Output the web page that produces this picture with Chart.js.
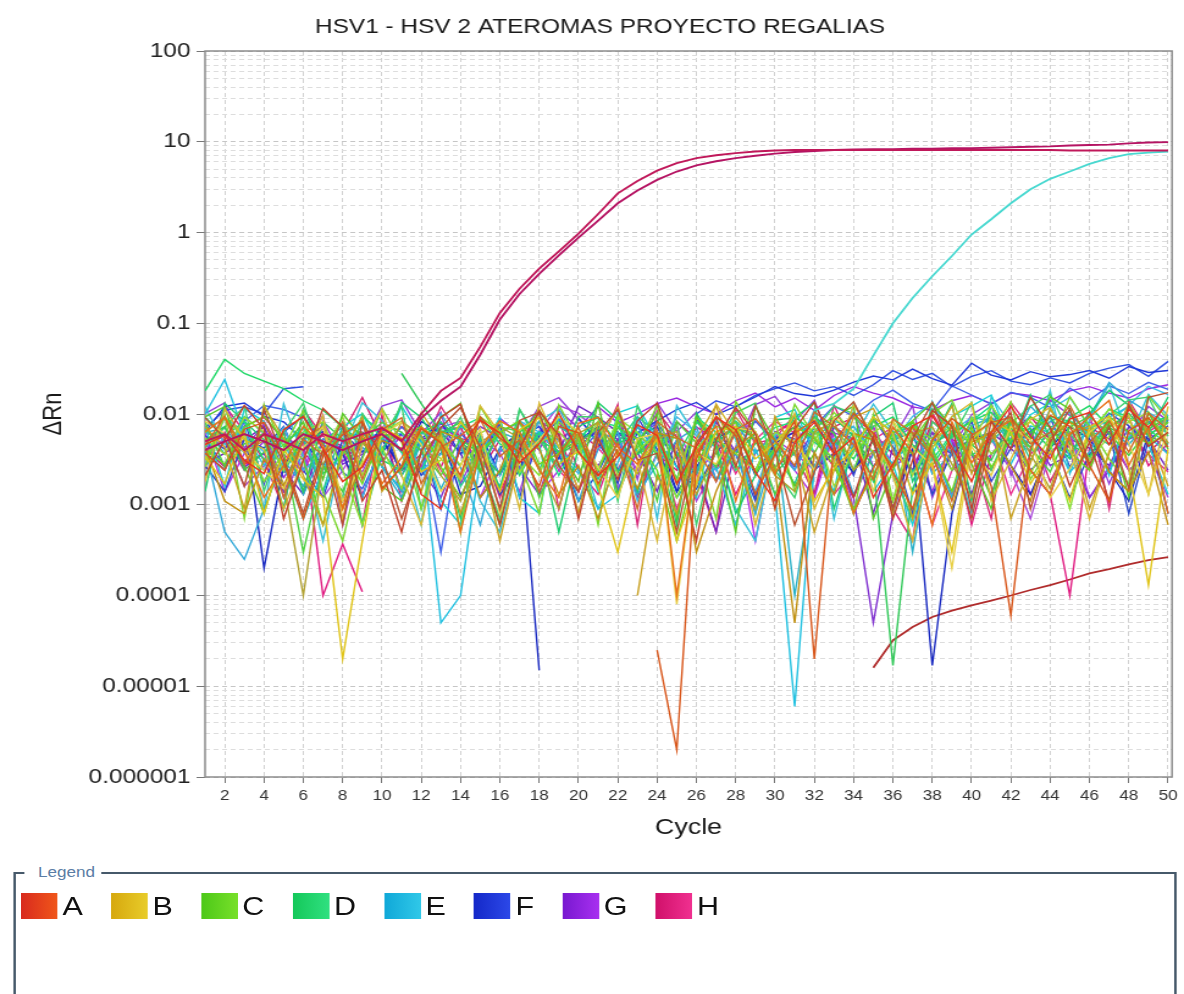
<!DOCTYPE html>
<html><head><meta charset="utf-8">
<script src="https://cdn.jsdelivr.net/npm/chart.js@4.4.1/dist/chart.umd.min.js"></script>
<style>
html,body{margin:0;padding:0;background:#fff;overflow:hidden;width:1184px;height:994px}
#wrap{position:absolute;left:0;top:0;width:970px;height:994px;transform:scaleX(1.2206);transform-origin:0 0}
#cbox{position:absolute;left:0;top:0;width:970px;height:860px}
#legbox{position:absolute;left:10.7px;top:872px;width:953px;height:200px;border:2px solid #46596a;box-sizing:border-box}
#legtitle{position:absolute;left:7.8px;top:-10px;background:#fff;padding:0 5px 0 10.6px;font:14px 'Liberation Sans',Arial,sans-serif;color:#5a7da5;line-height:16px}
#items{position:absolute;left:4.5px;top:19px;display:flex;align-items:center}
.it{display:flex;align-items:center;margin-right:23px}
.sw{width:30px;height:26px;margin-right:4px}
.lb{font:25px 'Liberation Sans',Arial,sans-serif;color:#111;line-height:26px}
</style></head>
<body>
<div id="wrap">
  <div id="cbox"><canvas id="c"></canvas></div>
  <div id="legbox"><span id="legtitle">Legend</span><div id="items"></div></div>
</div>
<script>
// ---------- DATA ----------
const titleText = 'HSV1 - HSV 2 ATEROMAS PROYECTO REGALIAS';
const cycles = [1,2,3,4,5,6,7,8,9,10,11,12,13,14,15,16,17,18,19,20,21,22,23,24,25,26,27,28,29,30,31,32,33,34,35,36,37,38,39,40,41,42,43,44,45,46,47,48,49,50];
const xTickValues = [2,4,6,8,10,12,14,16,18,20,22,24,26,28,30,32,34,36,38,40,42,44,46,48,50];
const xTickLabels = ['2','4','6','8','10','12','14','16','18','20','22','24','26','28','30','32','34','36','38','40','42','44','46','48','50'];
const yDecades = [0.000001,0.00001,0.0001,0.001,0.01,0.1,1,10,100];
const yTickLabels = ['0.000001','0.00001','0.0001','0.001','0.01','0.1','1','10','100'];
const groupNames = ['A','B','C','D','E','F','G','H'];

const A1 = [
0.0046,0.0058,0.0031,0.0022,0.0067,0.0094,0.0041,0.0018,0.0026,0.0071,
0.0052,0.0013,0.0009,0.0043,0.0085,0.0062,0.0029,0.0047,0.0103,0.0038,
0.0021,0.0034,0.0076,0.0058,0.0017,0.0044,0.0092,0.0067,0.0023,0.0011,
0.0049,0.0081,0.0036,0.0055,0.0012,0.0028,0.0074,0.0096,0.0043,0.0018,
0.0063,0.0121,0.0057,0.0032,0.0088,0.0104,0.0046,0.0113,0.0071,0.0134];
const A2 = [
0.0037,0.0024,0.0068,0.0081,0.0029,0.0007,0.0034,0.0059,0.0083,0.0015,
0.0026,0.0069,0.0048,0.0021,0.0093,0.0054,0.0038,0.0016,0.0073,0.0062,
0.0017,0.0041,null,0.000025,0.000002,0.0032,0.0095,0.0058,0.0013,0.0036,
0.0084,0.00002,0.0047,0.0102,0.0061,0.0023,0.0009,0.0052,0.0089,0.0061,
0.0016,0.00006,0.0042,0.0097,0.0073,0.0027,0.0011,0.0065,0.0091,0.0043];
const A3 = [
0.0021,0.0052,0.0124,0.0068,0.0007,0.0031,0.0115,0.0072,0.0011,0.0024,
0.0005,0.0039,0.0092,0.0128,0.0031,0.0006,0.0042,0.0108,0.0058,0.0007,
0.0054,0.0019,0.0084,0.0132,0.0033,0.0004,0.0052,0.0118,0.0061,0.0009,
0.0068,0.0135,0.0044,0.0012,0.0056,0.0007,0.0031,0.0109,0.0074,0.0009,
0.0083,0.0041,0.0152,0.0071,0.0016,0.0049,0.0011,0.0126,0.0044,0.0063];
const A4 = [
0.0064,0.0091,0.0039,0.0012,0.0027,0.0073,0.0046,0.0009,0.0061,0.0017,
0.0033,0.0072,0.0048,0.0005,0.0041,0.0084,0.0063,0.0024,0.0012,0.0079,
0.0092,0.0043,0.0028,0.0065,0.0001,0.0038,0.0074,0.0011,0.0053,0.0022,
0.0061,0.0086,0.0045,0.0008,0.0025,0.0071,0.0037,0.0006,0.0082,0.0029,
0.0063,0.0085,0.0024,0.0013,0.0059,0.0093,0.0141,0.0027,0.0072,0.0008];
const A5 = [
0.0091,0.0054,0.0016,0.0112,0.0032,0.0008,0.0041,0.0006,0.0082,0.0034,
0.0007,0.0029,0.0071,0.0118,0.0043,0.0009,0.0085,0.0104,0.0027,0.0014,
0.0063,0.0112,0.0031,0.0037,0.0005,0.0048,0.0091,0.0026,0.0124,0.0039,
0.0006,0.0023,0.0084,0.0136,0.0051,0.0009,0.0053,0.0134,0.0038,0.0007,
0.0057,0.0103,0.0009,0.0049,0.0114,0.0028,0.0072,0.0015,0.0153,0.0172];
const A6 = [
0.0045,0.0094,0.0028,0.0061,0.0012,0.0053,0.0035,0.0082,0.0019,0.0067,
0.0091,0.0017,0.0043,0.0058,0.0087,0.0034,0.0052,0.0014,0.0036,0.0071,
0.0021,0.0048,0.0009,0.0083,0.0055,0.0042,0.0018,0.0067,0.0089,0.0051,
0.0027,0.0105,0.0073,0.0046,0.0019,0.0088,0.0062,0.0034,0.0011,0.0058,
0.0081,0.0092,0.0047,0.0063,0.0125,0.0048,0.0084,0.0038,0.0102,0.0067];
const A_rise = [
null,null,null,null,null,null,null,null,null,null,
null,null,null,null,null,null,null,null,null,null,
null,null,null,null,null,null,null,null,null,null,
null,null,null,null,0.000016,0.000032,0.000045,0.000058,0.000068,0.000078,
0.000088,0.0001,0.000115,0.00013,0.00015,0.000175,0.000195,0.00022,0.000245,0.000265];

const B1 = [
0.0034,0.0017,0.0063,0.0008,0.0041,0.0019,0.0012,0.00002,0.0004,0.0072,
0.0054,0.0023,0.0031,0.0082,0.0043,0.0014,0.0067,0.0091,0.0028,0.0039,
0.0016,0.0003,0.0027,0.0053,0.0004,0.0018,0.0064,0.0073,0.0032,0.0048,
0.0084,0.0011,0.0025,0.0042,0.0093,0.0061,0.0013,0.0029,0.0003,0.0052,
0.0086,0.0064,0.0017,0.0039,0.0011,0.0072,0.0095,0.0026,0.00013,0.0041];
const B2 = [
0.0072,0.0043,0.0009,0.0122,0.0054,0.0021,0.0006,0.0038,0.0093,0.0014,
0.0027,0.0104,0.0049,0.0008,0.0037,0.0004,0.0034,0.0111,0.0052,0.0008,
0.0081,null,0.0001,0.0021,0.0008,0.0053,0.0124,0.0028,0.0009,0.0094,
0.0039,0.0005,0.0024,0.0092,0.0115,0.0041,0.0007,0.0051,0.0123,0.0022,
0.0094,0.0007,0.0029,0.0113,0.0054,0.0009,0.0037,0.0132,0.0061,0.0016];
const B3 = [
0.0083,0.0061,0.0038,0.0024,0.0015,0.0043,0.0072,0.0011,0.0029,0.0058,
0.0081,0.0046,0.0014,0.0027,0.0069,0.0008,0.0031,0.0052,0.0093,0.0063,
0.0026,0.0012,0.0054,0.0061,0.00008,0.0037,0.0028,0.0071,0.0064,0.0009,
0.0051,0.0024,0.0092,0.0062,0.0014,0.0084,0.0043,0.0027,0.0002,0.0044,
0.0021,0.0073,0.0052,0.0012,0.0025,0.0063,0.0091,0.0048,0.0013,0.0072];
const B4 = [
0.0043,0.0011,0.0008,0.0032,0.0016,0.0054,0.0073,0.0009,0.0028,0.0051,
0.0042,0.0014,0.0064,0.0053,0.0012,0.0024,0.0083,0.0041,0.0013,0.0027,
0.0007,0.0039,0.0015,0.0062,0.0054,0.0003,0.0014,0.0042,0.0063,0.0024,
0.00005,0.0038,0.0013,0.0061,0.0052,0.0026,0.0074,0.0036,0.0009,0.0049,
0.0062,0.0027,0.0011,0.0054,0.0081,0.0064,0.0023,0.0014,0.0038,0.0006];
const B5 = [
0.0062,0.0093,0.0038,0.0051,0.0017,0.0001,0.0028,0.0064,0.0049,0.0027,
0.0083,0.0058,0.0021,0.0011,0.0047,0.0073,0.0054,0.0026,0.0009,0.0061,
0.0081,0.0037,0.0022,0.0053,0.0064,0.0013,0.0038,0.0092,0.0052,0.0021,
0.0014,0.0063,0.0083,0.0024,0.0039,0.0008,0.0061,0.0072,0.0028,0.0012,
0.0053,0.0094,0.0036,0.0015,0.0062,0.0074,0.0023,0.0014,0.0091,0.0048];
const B6 = [
0.0018,0.0114,0.0052,0.0041,0.0009,0.0031,0.0096,0.0007,0.0046,0.0112,
0.0021,0.0006,0.0057,0.0019,0.0123,0.0061,0.0009,0.0132,0.0043,0.0015,
0.0048,0.0118,0.0032,0.0004,0.0047,0.0016,0.0129,0.0059,0.0006,0.0038,
0.0101,0.0009,0.0029,0.0127,0.0058,0.0021,0.0004,0.0042,0.0094,0.0133,
0.0011,0.0032,0.0087,0.0118,0.0043,0.0007,0.0039,0.0097,0.0013,0.0121];

const C1 = [
0.0041,0.0028,0.0072,0.0094,0.0053,0.0031,0.0006,0.0043,0.0017,0.0062,
0.0051,0.0074,0.0026,0.0012,0.0039,0.0063,0.0084,0.0028,0.0037,0.0061,
0.0015,0.0082,0.0052,0.0024,0.0004,0.0029,0.0063,0.0081,0.0022,0.0042,
0.0073,0.0054,0.0027,0.0009,0.0021,0.0062,0.0083,0.0041,0.0014,0.0072,
0.0026,0.0052,0.0093,0.0071,0.0038,0.0024,0.0094,0.0063,0.0047,0.0082];
const C2 = [
0.0093,0.0121,0.0027,0.0008,0.0042,0.0082,0.0019,0.0101,0.0054,0.0016,
0.0011,0.0038,0.0092,0.0131,0.0024,0.0006,0.0053,0.0112,0.0043,0.0018,
0.0133,0.0013,0.0047,0.0101,0.0007,0.0094,0.0042,0.0005,0.0122,0.0051,
0.0016,0.0037,0.0093,0.0122,0.0007,0.0024,0.0084,0.0133,0.0071,0.0028,
0.0009,0.0092,0.0053,0.0154,0.0113,0.0026,0.0079,0.0012,0.0104,0.0041];
const C3 = [
0.0031,0.0092,0.0054,0.0018,0.0037,0.0063,0.0082,0.0024,0.0006,0.0043,
0.0015,0.0071,0.0052,0.0027,0.0093,0.0064,0.0036,0.0021,0.0082,0.0054,
0.0024,0.0091,0.0062,0.0037,0.0012,0.0041,0.0073,0.0064,0.0023,0.0083,
0.0014,0.0052,0.0104,0.0063,0.0038,0.0011,0.0072,0.0053,0.0024,0.0092,
0.0036,0.0061,0.0082,0.0048,0.0009,0.0064,0.0112,0.0083,0.0047,0.0062];
const C4 = [
0.0082,0.0026,0.0047,0.0061,0.0038,0.0003,0.0027,0.0014,0.0052,0.0081,
0.0063,0.0039,0.0021,0.0054,0.0023,0.0072,0.0064,0.0012,0.0037,0.0053,
0.0024,0.0071,0.0052,0.0011,0.0083,0.0048,0.0026,0.0072,0.0054,0.0013,
0.0043,0.0092,0.0061,0.0024,0.0084,0.0052,0.0036,0.0113,0.0063,0.0039,
0.0012,0.0071,0.0043,0.0023,0.0072,0.0094,0.0061,0.0035,0.0068,0.0093];
const C5 = [
0.0054,0.0036,0.0092,0.0063,0.0024,0.0061,0.0037,0.0093,0.0021,0.0062,
0.0084,0.0053,0.0032,0.0019,0.0061,0.0082,0.0023,0.0048,0.0064,0.0036,
0.0083,0.0021,0.0039,0.0062,0.0018,0.0092,0.0054,0.0037,0.0024,0.0063,
0.0049,0.0072,0.0016,0.0038,0.0063,0.0084,0.0021,0.0052,0.0074,0.0047,
0.0124,0.0061,0.0022,0.0058,0.0083,0.0031,0.0057,0.0082,0.0104,0.0048];
const C6 = [
0.0026,0.0098,0.0007,0.0127,0.0043,0.0109,0.0014,0.0004,0.0032,0.0115,
0.0049,0.0009,0.0064,0.0005,0.0121,0.0053,0.0029,0.0008,0.0126,0.0051,
0.0006,0.0097,0.0042,0.0125,0.0017,0.0041,0.0007,0.0137,0.0063,0.0024,
0.0128,0.0056,0.0031,0.0008,0.0098,0.0011,0.0052,0.0101,0.0143,0.0045,
0.0064,0.0136,0.0019,0.0044,0.0155,0.0073,0.0032,0.0017,0.0158,0.0086];

const D1 = [
0.018,0.04,0.028,0.023,0.019,0.014,0.011,0.0072,0.0048,0.0031,
0.0024,0.0062,0.0081,0.0053,0.0036,0.0064,0.0021,0.0052,0.0038,0.0073,
0.0091,0.0047,0.0063,0.0019,0.0034,0.0082,0.0049,0.0071,0.0023,0.0039,
0.0094,0.0062,0.0051,0.0032,0.0073,0.0093,0.0046,0.0027,0.0058,0.0084,
0.0104,0.0061,0.0069,0.0042,0.0092,0.0123,0.0071,0.0053,0.0078,0.0094];
const D2 = [
0.0051,0.0073,0.0024,0.0038,0.0062,0.0014,0.0082,0.0053,0.0027,null,
0.028,0.013,0.0062,0.0081,0.0037,0.0022,0.0063,0.0092,0.0036,0.0048,
0.0071,0.0023,0.0037,0.0062,0.0019,0.0083,0.0054,0.0036,0.0061,0.0022,
0.0038,0.0073,0.0091,0.0057,0.0026,0.000017,0.0015,0.0043,0.0072,0.0046,
0.0031,0.0083,0.0062,0.0093,0.0047,0.0034,0.0071,0.0102,0.0058,0.0082];
const D3 = [
0.0092,0.0057,0.0083,0.0031,0.0046,0.0071,0.0022,0.0036,0.0094,0.0063,
0.0038,0.0024,0.0061,0.0072,0.0091,0.0047,0.0033,0.0062,0.0021,0.0054,
0.0082,0.0073,0.0036,0.0048,0.0019,0.0092,0.0063,0.0024,0.0047,0.0071,
0.0083,0.0049,0.0032,0.0064,0.0018,0.0053,0.0082,0.0031,0.0061,0.0084,
0.0123,0.0058,0.0043,0.0094,0.0083,0.0057,0.0114,0.0092,0.0068,0.0046];
const D4 = [
0.0043,0.0071,0.0122,0.0014,0.0063,0.0132,0.0027,0.0012,0.0101,0.0053,
0.0124,0.0009,0.0047,0.0092,0.0029,0.0007,0.0113,0.0052,0.0026,0.0094,
0.0092,0.0011,0.0124,0.0033,0.0081,0.0006,0.0049,0.0103,0.0132,0.0024,
0.0012,0.0063,0.0122,0.0101,0.0047,0.0022,0.0007,0.0082,0.0054,0.0133,
0.0024,0.0079,0.0122,0.0164,0.0061,0.0031,0.0098,0.0143,0.0154,0.0057];
const D5 = [
0.0072,0.0036,0.0094,0.0061,0.0023,0.0052,0.0014,0.0073,0.0062,0.0038,
0.0021,0.0047,0.0071,0.0016,0.0035,0.0063,0.0082,0.0024,0.0074,0.0051,
0.0019,0.0048,0.0093,0.0062,0.0036,0.0022,0.0063,0.0084,0.0051,0.0037,
0.0017,0.0061,0.0072,0.0038,0.0092,0.0064,0.0023,0.0047,0.0062,0.0035,
0.0049,0.0083,0.0031,0.0072,0.0084,0.0063,0.0046,0.0125,0.0057,0.0088];
const D6 = [
0.0014,0.0131,0.0083,0.0052,0.0009,0.0114,0.0046,0.0078,0.0006,0.0036,
0.0135,0.0091,0.0042,0.0007,0.0057,0.0015,0.0112,0.0046,0.0005,0.0043,
0.0134,0.0087,0.0014,0.0051,0.0006,0.0102,0.0047,0.0008,0.0021,0.0086,
0.0091,0.0134,0.0009,0.0043,0.0094,0.0132,0.0018,0.0052,0.0131,0.0011,
0.0128,0.0046,0.0162,0.0053,0.0032,0.0101,0.0182,0.0125,0.0063,0.0154];

const E1 = [
0.01,0.024,0.0061,0.0027,0.0052,0.0063,0.0014,0.0042,0.0074,0.0026,
0.0015,0.0051,0.00005,0.0001,0.0031,0.0016,0.0054,0.0063,0.0042,0.0024,
0.0009,0.0013,0.0043,0.0062,0.0054,0.0017,0.0026,0.0006,0.0041,0.0013,
0.000006,0.0027,0.0053,0.0063,0.0014,0.0029,0.0052,0.0043,0.0012,0.0064,
0.0053,0.0028,0.0074,0.0062,0.0023,0.0038,0.0092,0.0121,0.0057,0.0036];
const E2 = [
0.0042,0.0005,0.00025,0.0009,0.0031,0.0016,0.0052,0.0071,0.0043,0.0027,
0.0014,0.0062,0.0051,0.0026,0.0006,0.0043,0.0023,0.0064,0.0052,0.0011,
0.0041,0.0063,0.0013,0.0028,0.0051,0.0072,0.0019,0.0038,0.0008,0.0042,
0.0024,0.0063,0.0052,0.0013,0.0036,0.0061,0.0083,0.0022,0.0037,0.0064,
0.0092,0.0048,0.0122,0.0071,0.0057,0.0093,0.0222,0.0143,0.0104,0.0078];
const E3 = [
0.0073,0.0016,0.0114,0.0083,0.0027,0.0007,0.0024,0.0072,0.0101,0.0038,
0.0122,0.0054,0.0011,0.0006,0.0036,0.0092,0.0012,0.0008,0.0093,0.0052,
0.0014,0.0103,0.0123,0.0051,0.0026,0.0012,0.0094,0.0053,0.0008,0.0091,
0.0112,0.0037,0.0014,0.0133,0.0053,0.0028,0.0006,0.0036,0.0094,0.0122,
0.0162,0.0049,0.0098,0.0132,0.0033,0.0077,0.0021,0.0123,0.0046,0.0013];
const E4 = [
0.0027,0.0092,0.0063,0.0038,0.0071,0.0024,0.0037,0.0062,0.0012,0.0053,
0.0062,0.0024,0.0036,0.0073,0.0052,0.0021,0.0084,0.0063,0.0037,0.0022,
0.0053,0.0062,0.0011,0.0036,0.0093,0.0063,0.0024,0.0038,0.0014,0.0061,
0.0052,0.0023,0.0083,0.0072,0.0037,0.0048,0.0094,0.0132,0.0063,0.0092,
0.0083,0.0051,0.0039,0.0114,0.0153,0.0071,0.0082,0.0124,0.0202,0.0163];
const E5 = [
0.0062,0.0071,0.0037,0.0024,0.0053,0.0013,0.0038,0.0062,0.0083,0.0026,
0.0012,0.0051,0.0015,0.0041,0.0024,0.0063,0.0052,0.0083,0.0036,0.0062,
0.0054,0.0023,0.0072,0.0038,0.0012,0.0024,0.0063,0.0082,0.0037,0.0061,
0.0001,0.0024,0.0052,0.0073,0.0036,0.0062,0.0003,0.0051,0.0038,0.0074,
0.0092,0.0063,0.0047,0.0083,0.0104,0.0058,0.0068,0.0046,0.0083,0.0061];
const E6 = [
0.0121,0.0046,0.0072,0.0009,0.0129,0.0034,0.0004,0.0041,0.0133,0.0085,
0.0038,0.0006,0.0101,0.0047,0.0011,0.0005,0.0034,0.0082,0.0115,0.0044,
0.0009,0.0029,0.0091,0.0007,0.0123,0.0057,0.0043,0.0009,0.0004,0.0048,
0.0035,0.0111,0.0007,0.0052,0.0129,0.0064,0.0013,0.0137,0.0045,0.0008,
0.0154,0.0077,0.0038,0.0181,0.0022,0.0086,0.0212,0.0053,0.0164,0.0095];
const E_amp = [
null,null,null,null,null,null,null,null,null,null,
null,null,null,null,null,null,null,null,null,null,
null,null,null,null,null,null,null,null,null,null,
null,0.011,0.013,0.019,0.044,0.1,0.19,0.33,0.55,0.95,
1.4,2.1,3.0,3.9,4.7,5.7,6.6,7.3,7.6,7.8];

const F1 = [
0.0063,0.0121,0.0132,0.0094,0.0082,0.0051,0.0027,0.0063,0.0038,0.0072,
0.0024,0.0053,0.0081,0.0036,0.0062,0.0021,0.0054,0.0073,0.0032,0.0091,
0.0048,0.0023,0.0062,0.0084,0.0112,0.0134,0.0098,0.0121,0.0154,0.0201,
0.0168,0.0157,0.0183,0.0224,0.0262,0.0238,0.0312,0.0246,0.0208,0.0362,
0.0268,0.0237,0.0293,0.0257,0.0272,0.0301,0.0248,0.0334,0.0287,0.0302];
const F2 = [
0.007,0.011,0.012,0.01,0.019,0.02,null,null,null,null,
null,null,null,null,null,null,null,null,null,null,
null,null,null,null,null,0.01,0.014,0.012,0.016,0.019,
0.022,0.018,0.02,0.016,0.021,0.03,0.024,0.028,0.02,0.026,
0.03,0.023,0.021,0.025,0.022,0.028,0.032,0.035,0.026,0.038];
const F3 = [
0.0038,0.0024,0.0072,0.0002,0.0027,0.0053,0.0064,0.0036,0.0012,0.0052,
0.0026,0.0083,0.0061,0.0013,0.0016,0.0042,0.0063,0.000015,null,0.0051,
0.0073,0.0024,0.0037,0.0062,0.0014,0.0026,0.0053,0.0072,0.0021,0.0048,
0.0063,0.0084,0.0037,0.0023,0.0052,0.0009,0.0041,0.000017,0.0008,0.0053,
0.0062,0.0027,0.0013,0.0042,0.0073,0.0053,0.0024,0.0011,0.0062,0.0008];
const F4 = [
0.0052,0.0027,0.0083,0.0124,0.0112,0.0091,0.0048,0.0023,0.0015,0.0041,
0.0072,0.0046,0.0003,0.0061,0.0036,0.0083,0.0024,0.0052,0.0091,0.0037,
0.0063,0.0014,0.0052,0.0081,0.0038,0.0022,0.0063,0.0037,0.0084,0.0048,
0.0026,0.0072,0.0123,0.0094,0.0142,0.0183,0.0131,0.0108,0.0204,0.0162,
0.0128,0.0173,0.0152,0.0118,0.0192,0.0143,0.0204,0.0168,0.0223,0.0187];
const F5 = [
0.0027,0.0014,0.0053,0.0042,0.0073,0.0024,0.0012,0.0052,0.0063,0.0038,
0.0062,0.0021,0.0037,0.0074,0.0052,0.0013,0.0024,0.0063,0.0036,0.0011,
0.0023,0.0062,0.0054,0.0073,0.0026,0.0015,0.0038,0.0062,0.0012,0.0053,
0.0072,0.0024,0.0037,0.0008,0.0026,0.0052,0.0063,0.0013,0.0037,0.0054,
0.0083,0.0062,0.0024,0.0038,0.0012,0.0036,0.0063,0.0008,0.0052,0.0074];
const F6 = [
0.0058,0.0041,0.0086,0.0017,0.0063,0.0095,0.0048,0.0011,0.0034,0.0071,
0.0021,0.0054,0.0009,0.0045,0.0031,0.0078,0.0012,0.0057,0.0084,0.0043,
0.0068,0.0017,0.0092,0.0041,0.0014,0.0087,0.0052,0.0036,0.0011,0.0063,
0.0047,0.0094,0.0062,0.0021,0.0091,0.0043,0.0008,0.0054,0.0036,0.0083,
0.0018,0.0042,0.0065,0.0093,0.0026,0.0057,0.0102,0.0074,0.0046,0.0085];

const G1 = [
0.004,0.006,0.003,0.005,0.002,0.004,0.007,0.003,0.005,0.003,
0.006,0.004,0.008,0.005,0.003,0.009,0.006,0.004,0.011,0.007,
0.012,0.008,0.01,0.013,0.015,0.012,0.01,0.014,0.017,0.012,
0.015,0.011,0.016,0.02,0.017,0.015,0.012,0.011,0.014,0.016,
0.013,0.017,0.016,0.014,0.018,0.02,0.017,0.015,0.019,0.021];
const G2 = [
0.0053,0.0062,0.0026,0.0037,0.0014,0.0052,0.0073,0.0028,0.0036,0.0061,
0.0053,0.0024,0.0012,0.0042,0.0073,0.0054,0.0026,0.0013,0.0062,0.0043,
0.0027,0.0053,0.0014,0.0063,0.0042,0.0024,0.0082,0.0038,0.0013,0.0052,
0.0063,0.0026,0.0037,0.0012,0.00005,0.0008,0.0042,0.0063,0.0024,0.0036,
0.0013,0.0054,0.0062,0.0027,0.0036,0.0012,0.0024,0.0053,0.0064,0.0037];
const G3 = [
0.0062,0.0014,0.0037,0.0063,0.0052,0.0024,0.0083,0.0036,0.0023,0.0061,
0.0054,0.0026,0.0072,0.0053,0.0012,0.0038,0.0062,0.0013,0.0024,0.0052,
0.0063,0.0015,0.0037,0.0052,0.0072,0.0023,0.0038,0.0061,0.0004,0.0053,
0.0024,0.0012,0.0062,0.0053,0.0073,0.0026,0.0037,0.0014,0.0052,0.0023,
0.0036,0.0062,0.0013,0.0037,0.0063,0.0012,0.0026,0.0054,0.0083,0.0048];
const G4 = [
0.0028,0.0037,0.0052,0.0072,0.0024,0.0013,0.0053,0.0042,0.0026,0.0063,
0.0014,0.0052,0.0063,0.0037,0.0012,0.0023,0.0054,0.0062,0.0038,0.0122,
0.0092,0.0063,0.0038,0.0014,0.0052,0.0026,0.0005,0.0042,0.0024,0.0063,
0.0053,0.0026,0.0072,0.0052,0.0008,0.0043,0.0024,0.0062,0.0053,0.0013,
0.0063,0.0042,0.0024,0.0013,0.0053,0.0042,0.0027,0.0072,0.0053,0.0024];
const G5 = [
0.0043,0.0052,0.0016,0.0027,0.0063,0.0036,0.0012,0.0024,0.0053,0.0062,
0.0038,0.0024,0.0072,0.0083,0.0052,0.0037,0.0014,0.0063,0.0124,0.0102,
0.0062,0.0053,0.0024,0.0072,0.0036,0.0011,0.0027,0.0062,0.0083,0.0053,
0.0037,0.0024,0.0062,0.0009,0.0026,0.0052,0.0073,0.0038,0.0013,0.0062,
0.0052,0.0024,0.0007,0.0038,0.0053,0.0082,0.0063,0.0024,0.0037,0.0012];
const G6 = [
0.0101,0.0133,0.0042,0.0076,0.0012,0.0038,0.0097,0.0006,0.0047,0.0122,
0.0143,0.0061,0.0104,0.0017,0.0046,0.0009,0.0053,0.0121,0.0151,0.0087,
0.0054,0.0111,0.0019,0.0133,0.0064,0.0105,0.0018,0.0043,0.0127,0.0156,
0.0082,0.0142,0.0038,0.0103,0.0026,0.0053,0.0124,0.0012,0.0041,0.0098,
0.0133,0.0021,0.0058,0.0142,0.0096,0.0064,0.0017,0.0053,0.0121,0.0084];

const H1 = [
0.0052,0.0063,0.0028,0.0037,0.0014,0.0052,0.0001,0.00037,0.00011,null,
null,0.0042,0.0026,0.0073,0.0053,0.0014,0.0037,0.0062,0.0084,0.0024,
0.0013,0.0053,0.0062,0.0036,0.0024,0.0072,0.0052,0.0013,0.0037,0.0063,
0.0082,0.0053,0.0026,0.0012,0.0038,0.0062,0.0072,0.0024,0.0052,0.0006,
0.0036,0.0063,0.0024,0.0013,0.0001,0.0042,0.0073,0.0092,0.0027,0.0048];
const H2 = [
0.0042,0.0026,0.0073,0.0092,0.0052,0.0037,0.0024,0.0062,0.0152,0.0053,
0.0024,0.0036,0.0063,0.0072,0.0023,0.0052,0.0036,0.0083,0.0062,0.0014,
0.0052,0.0063,0.0012,0.0037,0.0082,0.0053,0.0024,0.0072,0.0063,0.0026,
0.0037,0.0013,0.0072,0.0092,0.0062,0.0036,0.0024,0.0083,0.0053,0.0037,
0.0024,0.0063,0.0093,0.0052,0.0036,0.0072,0.0053,0.0024,0.0037,0.0062];
const H3 = [
0.0063,0.0052,0.0024,0.0083,0.0036,0.0023,0.0062,0.0052,0.0013,0.0042,
0.0073,0.0053,0.0024,0.0012,0.0037,0.0062,0.0082,0.0053,0.0024,0.0014,
0.0042,0.0024,0.0072,0.0053,0.0009,0.0037,0.0063,0.0022,0.0052,0.0083,
0.0062,0.0037,0.0013,0.0024,0.0052,0.0072,0.0037,0.0006,0.0024,0.0053,
0.0062,0.0013,0.0036,0.0063,0.0052,0.0024,0.0083,0.0062,0.0036,0.0023];
const H4 = [
0.0025,0.0123,0.0064,0.0031,0.0009,0.0112,0.0057,0.0044,0.0006,0.0098,
0.0011,0.0037,0.0121,0.0054,0.0046,0.0012,0.0048,0.0103,0.0009,0.0062,
0.0043,0.0127,0.0006,0.0108,0.0056,0.0022,0.0005,0.0113,0.0047,0.0054,
0.0098,0.0013,0.0126,0.0041,0.0072,0.0009,0.0004,0.0103,0.0045,0.0038,
0.0007,0.0134,0.0069,0.0018,0.0047,0.0105,0.0009,0.0142,0.0063,0.0091];
const H_amp1 = [
0.005,0.006,0.004,0.006,0.005,0.004,0.006,0.005,0.006,0.007,
0.005,0.01,0.018,0.025,0.055,0.13,0.24,0.4,0.62,0.97,
1.6,2.7,3.7,4.8,5.8,6.6,7.1,7.5,7.8,8.0,
8.1,8.1,8.1,8.1,8.1,8.1,8.1,8.1,8.1,8.1,
8.1,8.1,8.1,8.1,8.0,8.0,8.0,8.0,8.0,8.0];
const H_amp2 = [
0.004,0.005,0.006,0.005,0.004,0.006,0.005,0.004,0.005,0.006,
0.004,0.009,0.014,0.02,0.045,0.11,0.21,0.35,0.56,0.88,
1.35,2.1,2.9,3.8,4.7,5.5,6.1,6.6,7.0,7.4,
7.7,7.9,8.1,8.2,8.3,8.3,8.4,8.4,8.5,8.5,
8.6,8.7,8.8,8.9,9.1,9.2,9.3,9.6,9.8,9.9];

// ---------- STYLES ----------
const legendGradients = [
  ['#d82a1e','#f0561a'],['#d6a80e','#e8cc2a'],['#4cc818','#78e02a'],['#14c85a','#30e080'],
  ['#10a8d8','#30c8e8'],['#1428c8','#2c48e8'],['#7818d0','#a830f0'],['#d0106a','#f03090']];
const groupTraces = [
  [A1,A2,A3,A4,A5,A6],[B1,B2,B3,B4,B5,B6],[C1,C2,C3,C4,C5,C6],[D1,D2,D3,D4,D5,D6],
  [E1,E2,E3,E4,E5,E6],[F1,F2,F3,F4,F5,F6],[G1,G2,G3,G4,G5,G6],[H1,H2,H3,H4]];
const groupColors = [
  ['#e8321c','#d8561a','#c0402a','#e87018','#b85030','#d06a28'],
  ['#e0c418','#c8a020','#e8d048','#c09010','#b0a030','#d8b830'],
  ['#6cd820','#58c828','#88e030','#4cd040','#a0d838','#7cd830'],
  ['#20d868','#30c858','#18e080','#40d070','#28c890','#1ccc70'],
  ['#20c0e0','#30a8d8','#18d0d8','#40b8e8','#28b0c8','#38c0d8'],
  ['#2038d8','#3050e0','#1828c0','#4060e8','#2848c8','#3444d0'],
  ['#9a28e0','#8030d0','#b030e8','#7028c0','#a848d8','#9440d8'],
  ['#e01a80','#d02070','#e83090','#d8287a']];

// ---------- BUILD ----------
const FONT = "'Liberation Sans', Arial, sans-serif";
Chart.defaults.font.family = FONT;

function pts(vals){ return vals.map((v,i)=>({x:cycles[i], y:v})); }
function ds(vals, color, width){
  return {data: pts(vals), borderColor: color, backgroundColor: color, borderWidth: width,
          pointRadius: 0, fill: false, tension: 0, spanGaps: false};
}
const datasets = [];
datasets.push(ds(H_amp1,'#c0185a',1.9));
datasets.push(ds(H_amp2,'#b51463',1.9));
datasets.push(ds(E_amp,'#48d8d0',1.8));
groupTraces.forEach((g,gi)=>g.forEach((t,ti)=>datasets.push(ds(t, groupColors[gi][ti], 1.4))));
datasets.push(ds(A_rise,'#b02c2c',1.8));

const yGrid = [];
yDecades.forEach((d,k)=>{
  for (let m=1;m<=9;m++){
    if (k===yDecades.length-1 && m>1) break;
    yGrid.push({value:d*m, major:m===1, txt: m===1 ? yTickLabels[k] : ''});
  }
});

const frame = {
  id:'frame',
  beforeDatasetsDraw(chart){
    const {ctx, chartArea:{left,top,right,bottom}} = chart;
    ctx.save();
    ctx.strokeStyle = '#8d8d8d'; ctx.lineWidth = 1.5; ctx.setLineDash([]);
    ctx.strokeRect(left, top, right-left, bottom-top);
    ctx.restore();
  }
};

new Chart(document.getElementById('c'), {
  type:'line',
  data:{datasets},
  plugins:[frame],
  options:{
    responsive:true, maintainAspectRatio:false, animation:false,
    layout:{padding:{left:23, right:9.8, top:0, bottom:0}},
    plugins:{
      legend:{display:false}, tooltip:{enabled:false},
      title:{display:true, text:titleText, color:'#1a1a1a', font:{size:20, weight:'normal', family:FONT}, padding:{top:15,bottom:12}}
    },
    scales:{
      x:{
        type:'linear', min:1, max:50.2,
        afterBuildTicks:s=>{ s.ticks = xTickValues.map(v=>({value:v})); },
        afterFit:s=>{ s.height = 83; },
        ticks:{autoSkip:false, maxRotation:0, color:'#333', font:{size:14}, padding:5,
               callback:(v,i)=>xTickLabels[i]},
        grid:{color:'#d2d2d2', lineWidth:1, tickLength:6, tickColor:'#777', drawTicks:true},
        border:{display:false, dash:[4,3]},
        title:{display:true, text:'Cycle', color:'#1a1a1a', font:{size:22}, padding:{top:0,bottom:19}}
      },
      y:{
        type:'logarithmic', min:0.000001, max:100,
        afterBuildTicks:s=>{ s.ticks = yGrid.map(t=>({value:t.value, major:t.major, txt:t.txt})); },
        afterFit:s=>{ s.width = 145; },
        ticks:{autoSkip:false, color:'#222', font:{size:20}, padding:5,
               callback:(v,i,ticks)=>ticks[i].txt},
        grid:{color:c=>(c.tick && c.tick.major) ? '#c6c6c6' : '#dddddd', lineWidth:1, tickLength:7,
              tickColor:c=>(c.tick && c.tick.major) ? '#777' : 'rgba(0,0,0,0)'},
        border:{display:false, dash:[4,3]},
        title:{display:true, text:'ΔRn', color:'#1a1a1a', font:{size:22}, padding:{top:8,bottom:0}}
      }
    }
  }
});

// legend entries
const items = document.getElementById('items');
groupNames.forEach((n,i)=>{
  const it = document.createElement('div'); it.className='it';
  const sw = document.createElement('div'); sw.className='sw';
  sw.style.background = 'linear-gradient(90deg,'+legendGradients[i][0]+','+legendGradients[i][1]+')';
  const lb = document.createElement('span'); lb.className='lb'; lb.textContent = n;
  it.appendChild(sw); it.appendChild(lb); items.appendChild(it);
});
</script>
</body></html>
